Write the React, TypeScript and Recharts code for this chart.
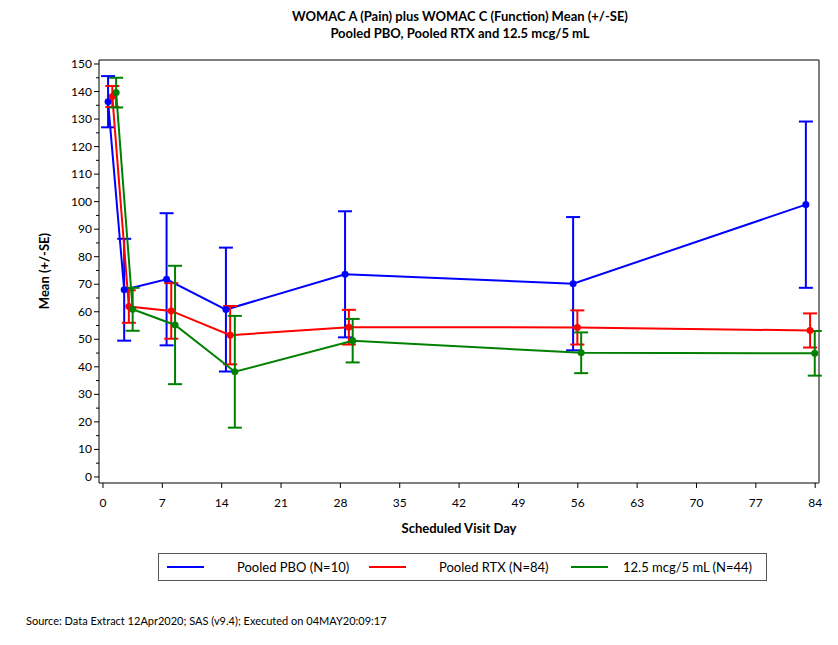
import { ComposedChart, Line, XAxis, YAxis, ErrorBar, ReferenceLine } from "recharts";

// visit day (as plotted, groups slightly offset), mean and SE per group
const pboDay = [0.6, 2.5, 7.5, 14.5, 28.55, 55.45, 82.9];
const pboMean = [136.3, 68.0, 71.8, 60.8, 73.6, 70.2, 98.9];
const pboSe = [9.3, 18.5, 24.0, 22.5, 22.9, 24.2, 30.2];

const rtxDay = [1.1, 3.05, 8.05, 15.0, 29.0, 55.95, 83.4];
const rtxMean = [138.2, 61.9, 60.3, 51.5, 54.4, 54.3, 53.2];
const rtxSe = [3.8, 5.9, 10.1, 10.6, 6.3, 6.2, 6.2];

const lowDay = [1.55, 3.5, 8.5, 15.55, 29.45, 56.4, 83.95];
const lowMean = [139.6, 60.9, 55.2, 38.2, 49.5, 45.1, 44.9];
const lowSe = [5.4, 7.8, 21.5, 20.3, 7.9, 7.4, 8.1];

const xTicks = [0, 7, 14, 21, 28, 35, 42, 49, 56, 63, 70, 77, 84];
const yTicks = Array.from({ length: 31 }, (_, i) => i * 5);

const X_DOMAIN: [number, number] = [-0.47, 84.45];
const Y_DOMAIN: [number, number] = [-2.2, 151.45];

const FONT = "Lato, 'Liberation Sans', sans-serif";

const series = [
  { key: "pbo", name: "Pooled PBO (N=10)", color: "#0000ff", days: pboDay, mean: pboMean, se: pboSe },
  { key: "rtx", name: "Pooled RTX (N=84)", color: "#ff0000", days: rtxDay, mean: rtxMean, se: rtxSe },
  { key: "low", name: "12.5 mcg/5 mL (N=44)", color: "#008000", days: lowDay, mean: lowMean, se: lowSe },
];

function YTick(props: any) {
  const { x, y, payload } = props;
  const major = payload.value % 10 === 0;
  return (
    <g>
      <line x1={x - (major ? 5 : 3)} x2={x} y1={y} y2={y} stroke="#000" />
      {major && (
        <text x={x - 7} y={y + 4} textAnchor="end" fontSize={12} fill="#000">
          {payload.value}
        </text>
      )}
    </g>
  );
}

function XTick(props: any) {
  const { x, y, payload } = props;
  return (
    <g>
      <line x1={x} x2={x} y1={y} y2={y + 5} stroke="#000" />
      <text x={x} y={y + 24} textAnchor="middle" fontSize={12} fill="#000">
        {payload.value}
      </text>
    </g>
  );
}

export default function App() {
  return (
    <div style={{ position: "absolute", left: 0, top: 0, width: 838, height: 645, background: "#fff", fontFamily: FONT, color: "#000" }}>
      <div style={{ position: "absolute", left: 0, width: 920, top: 8, textAlign: "center", fontWeight: 700, fontSize: 13, lineHeight: "17px" }}>
        WOMAC A (Pain) plus WOMAC C (Function) Mean (+/-SE)
        <br />
        Pooled PBO, Pooled RTX and 12.5 mcg/5 mL
      </div>

      <ComposedChart width={838} height={645} margin={{ top: 60, right: 19, left: 0, bottom: 0 }}>
        <XAxis
          type="number"
          dataKey="day"
          domain={X_DOMAIN}
          allowDataOverflow
          ticks={xTicks}
          interval={0}
          height={162}
          tickSize={0}
          tickMargin={0}
          tick={<XTick />}
          axisLine={{ stroke: "#808080", strokeWidth: 2 }}
          tickLine={false}
        />
        <YAxis
          type="number"
          domain={Y_DOMAIN}
          allowDataOverflow
          ticks={yTicks}
          interval={0}
          width={99}
          tickSize={0}
          tickMargin={0}
          tick={<YTick />}
          axisLine={{ stroke: "#000" }}
          tickLine={false}
        />
        <ReferenceLine y={Y_DOMAIN[1]} stroke="#000" />
        <ReferenceLine x={X_DOMAIN[1]} stroke="#000" />
        {series.map((s) => (
          <Line
            key={s.key}
            data={s.days.map((d, i) => ({ day: d, mean: s.mean[i], se: s.se[i] }))}
            dataKey="mean"
            name={s.name}
            type="linear"
            stroke={s.color}
            strokeWidth={2}
            dot={{ r: 3.3, fill: s.color, stroke: s.color, strokeWidth: 0.5 }}
            activeDot={false}
            isAnimationActive={false}
          >
            <ErrorBar dataKey="se" direction="y" width={7} stroke={s.color} strokeWidth={2} />
          </Line>
        ))}
      </ComposedChart>

      <div style={{ position: "absolute", left: 44, top: 271, transform: "translate(-50%, -50%) rotate(-90deg)", fontWeight: 700, fontSize: 13, whiteSpace: "nowrap" }}>
        Mean (+/-SE)
      </div>
      <div style={{ position: "absolute", left: 459, top: 528, transform: "translate(-50%, -50%)", fontWeight: 700, fontSize: 13, whiteSpace: "nowrap" }}>
        Scheduled Visit Day
      </div>

      <div style={{ position: "absolute", left: 158, top: 553, width: 609, height: 28, boxSizing: "border-box", border: "1px solid #555" }}>
        {series.map((s, i) => (
          <div key={s.key} style={{ position: "absolute", left: [8, 210, 412][i], top: 0, height: 26, display: "flex", alignItems: "center" }}>
            <div style={{ width: 37, height: 2, background: s.color }} />
            <div style={{ marginLeft: [33, 33, 15][i], fontSize: 13, whiteSpace: "nowrap" }}>{s.name}</div>
          </div>
        ))}
      </div>

      <div style={{ position: "absolute", left: 26, top: 614, fontSize: 11, whiteSpace: "nowrap" }}>
        Source: Data Extract 12Apr2020; SAS (v9.4); Executed on 04MAY20:09:17
      </div>
    </div>
  );
}
